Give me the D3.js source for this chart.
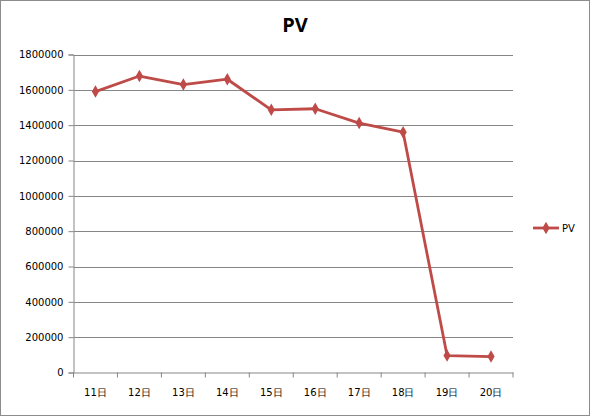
<!DOCTYPE html>
<html><head><meta charset="utf-8">
<script src="https://cdn.jsdelivr.net/npm/d3@7"></script>
<style>body{margin:0;background:#fff;}svg{display:block;}</style>
</head><body>
<script>
const categories = ["11日","12日","13日","14日","15日","16日","17日","18日","19日","20日"];
const pvValues = [1590000,1678000,1630000,1660000,1487000,1493000,1412000,1360000,96000,90000];
const yTicks = [0,200000,400000,600000,800000,1000000,1200000,1400000,1600000,1800000];
const seriesName = "PV";
const chartTitle = "PV";

const W = 590, H = 417;
const svg = d3.select("body").append("svg").attr("width", W).attr("height", H);
svg.append("rect").attr("x",0.5).attr("y",0.5).attr("width",W-1).attr("height",H-2)
  .attr("fill","#fff").attr("stroke","#8c8c8c");

const m = {l:73.5, r:513, t:54.5, b:372.5};
const x = d3.scaleBand().domain(categories).range([m.l, m.r]);
const y = d3.scaleLinear().domain([0,1800000]).range([m.b, m.t]);

const font = "Verdana, 'DejaVu Sans', sans-serif";
svg.append("text").attr("x",295).attr("y",32).attr("text-anchor","middle")
  .attr("font-family","'Open Sans','DejaVu Sans',sans-serif").attr("font-weight","bold")
  .attr("font-size",20).attr("fill","#000").text(chartTitle);

// gridlines
svg.append("g").selectAll("line").data(yTicks.filter(d=>d>0)).join("line")
  .attr("x1",m.l).attr("x2",m.r).attr("y1",d=>Math.round(y(d))+0.5).attr("y2",d=>Math.round(y(d))+0.5)
  .attr("stroke","#868686").attr("stroke-width",1);

// y axis
const ya = svg.append("g").attr("transform",`translate(${m.l},0)`)
  .call(d3.axisLeft(y).tickValues(yTicks).tickSize(5).tickPadding(5).tickFormat(d3.format("d")));
ya.select(".domain").attr("stroke","#868686");
ya.selectAll(".tick line").attr("stroke","#868686");
ya.selectAll(".tick text").attr("font-family",font).attr("font-size",10).attr("fill","#000");

// x axis
const xa = svg.append("g").attr("transform",`translate(0,${m.b})`)
  .call(d3.axisBottom(x).tickSize(0).tickPadding(16));
xa.select(".domain").attr("stroke","#868686");
xa.selectAll(".tick text").attr("font-family",font).attr("font-size",10).attr("fill","#000");
svg.append("g").selectAll("line").data(d3.range(categories.length+1)).join("line")
  .attr("x1",i=>m.l+i*x.step()).attr("x2",i=>m.l+i*x.step())
  .attr("y1",m.b).attr("y2",m.b+5).attr("stroke","#868686");

const color = "#be4b48";
const cx = d=>x(d)+x.bandwidth()/2;
svg.append("path").datum(categories.map((c,i)=>[cx(c),y(pvValues[i])]))
  .attr("d",d3.line()).attr("fill","none").attr("stroke",color).attr("stroke-width",2.8)
  .attr("stroke-linejoin","round");
const diamond = d3.symbol().type(d3.symbolDiamond).size(45);
svg.append("g").selectAll("path").data(categories).join("path")
  .attr("d",diamond).attr("transform",(c,i)=>`translate(${cx(c)},${y(pvValues[i])})`)
  .attr("fill",color);

// legend
const lg = svg.append("g").attr("transform","translate(533,228)");
lg.append("line").attr("x1",0).attr("x2",26).attr("stroke",color).attr("stroke-width",2.8);
lg.append("path").attr("d",diamond).attr("transform","translate(13,0)").attr("fill",color);
lg.append("text").attr("x",29).attr("y",4).attr("font-family",font).attr("font-size",10).attr("fill","#000").text(seriesName);
</script>
</body></html>
